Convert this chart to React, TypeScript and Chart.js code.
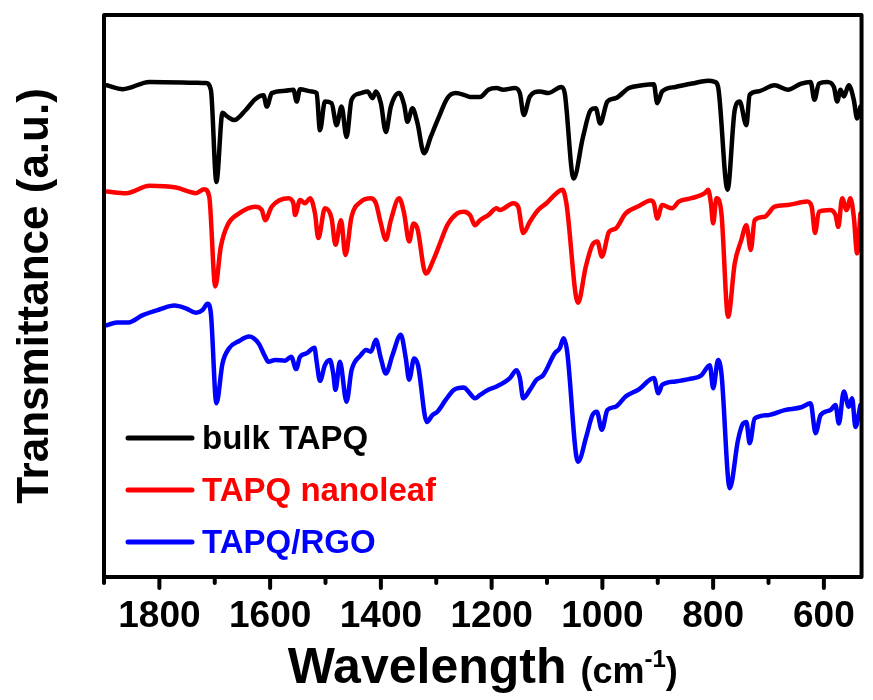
import React, { useEffect, useRef } from 'react';
import { Chart, registerables } from 'chart.js';

Chart.register(...registerables);

// Wavenumber (cm-1) and transmittance (a.u.) for each spectrum
const bulkWn = [1895, 1866, 1818, 1716, 1707, 1697, 1686, 1677, 1665, 1644, 1627, 1612, 1606, 1597, 1573, 1558, 1552, 1546, 1525, 1516, 1510, 1501, 1489, 1480, 1471, 1462, 1453, 1436, 1424, 1415, 1409, 1400, 1391, 1382, 1367, 1358, 1352, 1343, 1334, 1322, 1310, 1295, 1280, 1265, 1250, 1239, 1221, 1206, 1191, 1179, 1158, 1149, 1142, 1131, 1113, 1098, 1074, 1068, 1052, 1035, 1021, 1012, 1004, 991, 976, 952, 928, 907, 901, 892, 868, 838, 809, 797, 791, 774, 761, 752, 740, 734, 719, 689, 665, 641, 624, 617, 609, 594, 582, 576, 570, 564, 555, 546, 540, 534];
const bulkT = [87.5, 86.8, 88.1, 87.9, 86.7, 70.3, 82.6, 81.9, 81.3, 83.1, 85.0, 85.7, 83.7, 86.1, 86.5, 86.7, 84.6, 86.8, 86.4, 86.1, 79.5, 84.6, 84.3, 80.4, 83.7, 78.3, 84.9, 86.1, 86.4, 85.2, 86.4, 84.3, 79.2, 83.7, 86.1, 84.0, 81.0, 83.4, 80.8, 75.4, 78.3, 81.9, 85.2, 86.1, 85.8, 85.4, 85.4, 86.7, 87.0, 86.7, 87.0, 86.1, 82.2, 85.5, 86.4, 86.1, 87.2, 86.1, 70.9, 78.3, 83.1, 83.4, 80.7, 84.6, 85.2, 87.0, 87.5, 87.7, 84.3, 86.4, 87.2, 87.8, 88.3, 88.1, 87.2, 68.9, 83.1, 84.6, 80.4, 85.8, 86.4, 87.5, 86.7, 87.8, 88.1, 84.9, 87.8, 88.1, 87.2, 84.6, 86.7, 85.5, 87.5, 84.9, 81.6, 83.7];

const leafWn = [1895, 1860, 1818, 1770, 1734, 1719, 1710, 1699, 1689, 1677, 1656, 1627, 1615, 1609, 1597, 1567, 1558, 1555, 1546, 1537, 1528, 1519, 1513, 1501, 1489, 1482, 1472, 1464, 1453, 1436, 1418, 1409, 1400, 1391, 1382, 1367, 1358, 1349, 1341, 1334, 1319, 1304, 1292, 1280, 1262, 1250, 1239, 1230, 1221, 1206, 1191, 1185, 1161, 1152, 1143, 1131, 1116, 1101, 1083, 1072, 1065, 1044, 1030, 1018, 1009, 1001, 988, 976, 958, 934, 913, 907, 901, 892, 874, 862, 839, 815, 809, 804, 800, 794, 785, 773, 761, 749, 740, 732, 725, 707, 689, 665, 630, 622, 616, 609, 588, 579, 574, 567, 559, 552, 546, 540, 534];
const leafT = [68.6, 68.3, 69.6, 69.3, 68.3, 69.0, 67.7, 51.7, 58.8, 62.6, 64.7, 65.9, 65.3, 63.5, 65.9, 67.4, 66.5, 64.4, 67.1, 66.5, 67.4, 64.7, 60.3, 65.6, 63.8, 59.1, 63.5, 57.3, 64.1, 66.8, 67.4, 66.5, 62.9, 60.0, 63.5, 67.4, 64.7, 59.7, 62.9, 62.0, 54.0, 56.7, 59.7, 62.6, 64.7, 65.0, 64.4, 62.6, 63.5, 64.4, 65.6, 65.3, 66.5, 65.9, 61.2, 63.2, 65.3, 66.5, 68.3, 68.9, 66.5, 48.8, 55.2, 59.1, 59.7, 57.0, 61.4, 62.0, 64.7, 66.0, 67.0, 66.5, 63.8, 66.2, 65.6, 66.8, 67.4, 68.3, 68.9, 66.5, 62.9, 67.4, 64.7, 46.3, 55.8, 60.0, 62.6, 58.2, 63.5, 64.1, 65.9, 66.2, 66.8, 65.9, 61.2, 65.0, 65.3, 64.4, 62.3, 67.4, 65.3, 67.4, 64.1, 57.6, 64.7];

const rgoWn = [1895, 1877, 1856, 1830, 1800, 1773, 1752, 1734, 1722, 1713, 1707, 1697, 1686, 1674, 1656, 1638, 1621, 1609, 1603, 1591, 1573, 1562, 1553, 1546, 1534, 1520, 1516, 1510, 1501, 1492, 1486, 1482, 1474, 1462, 1453, 1436, 1427, 1418, 1409, 1400, 1391, 1379, 1364, 1355, 1349, 1340, 1333, 1317, 1307, 1298, 1283, 1268, 1250, 1242, 1230, 1221, 1206, 1191, 1167, 1155, 1149, 1143, 1131, 1119, 1107, 1086, 1077, 1070, 1064, 1044, 1029, 1018, 1010, 1001, 991, 976, 958, 934, 907, 899, 892, 868, 844, 821, 806, 800, 791, 785, 770, 755, 746, 740, 734, 725, 701, 671, 641, 624, 615, 606, 588, 579, 573, 564, 555, 549, 543, 534];
const rgoT = [44.8, 45.3, 45.3, 46.6, 47.6, 48.3, 47.8, 47.0, 47.5, 48.6, 46.9, 30.9, 38.0, 40.7, 42.0, 42.8, 41.6, 39.2, 38.3, 38.6, 38.5, 39.2, 37.0, 39.2, 39.8, 40.8, 38.3, 34.9, 37.7, 38.6, 36.2, 33.3, 38.3, 31.2, 36.8, 39.5, 40.4, 40.1, 42.2, 38.9, 36.2, 39.5, 43.1, 38.9, 35.1, 38.9, 37.7, 27.6, 28.8, 29.4, 31.5, 33.3, 33.7, 33.0, 31.8, 32.4, 33.3, 33.9, 35.4, 36.8, 35.4, 31.8, 33.3, 35.1, 35.9, 39.8, 40.7, 42.5, 40.4, 20.5, 25.0, 28.8, 29.4, 26.2, 29.7, 30.3, 32.1, 33.4, 35.4, 32.7, 34.2, 34.8, 35.2, 35.9, 37.7, 33.6, 38.6, 36.2, 15.8, 24.4, 27.3, 27.6, 23.8, 28.2, 28.8, 29.7, 30.2, 30.9, 25.6, 28.8, 29.7, 30.6, 27.3, 33.0, 30.3, 31.8, 26.7, 30.6];

const seriesNames = ['bulk TAPQ', 'TAPQ nanoleaf', 'TAPQ/RGO'];
const seriesColors = ['#000000', '#ff0000', '#0000ff'];
const majorTicks = [1800, 1600, 1400, 1200, 1000, 800, 600];
const minorTicks = [1900, 1700, 1500, 1300, 1100, 900, 700];
const xTitle = 'Wavelength';
const xUnit = ['(cm', '-1', ')'];
const yTitle = 'Transmittance (a.u.)';

const FONT = '"Liberation Sans", Arial, Helvetica, sans-serif';

const toPoints = (wn: number[], t: number[]) => wn.map((w, i) => ({ x: w, y: t[i] }));

export default function App() {
  const ref = useRef<HTMLCanvasElement>(null);

  useEffect(() => {
    const canvas = ref.current;
    if (!canvas) return;

    const decor = {
      id: 'decor',
      afterDraw(chart: any) {
        const { ctx, chartArea: a, scales } = chart;
        const x = scales.x;
        ctx.save();
        // frame
        ctx.strokeStyle = '#000';
        ctx.lineWidth = 4;
        ctx.lineJoin = 'round';
        ctx.strokeRect(a.left, a.top, a.right - a.left, a.bottom - a.top);
        // ticks
        ctx.lineCap = 'round';
        majorTicks.forEach((v) => {
          const px = x.getPixelForValue(v);
          ctx.beginPath();
          ctx.moveTo(px, a.bottom);
          ctx.lineTo(px, a.bottom + 11);
          ctx.stroke();
        });
        minorTicks.forEach((v) => {
          const px = x.getPixelForValue(v);
          ctx.beginPath();
          ctx.moveTo(px, a.bottom);
          ctx.lineTo(px, a.bottom + 6);
          ctx.stroke();
        });

        // legend
        const legY = [438, 490, 542];
        seriesNames.forEach((name, i) => {
          ctx.strokeStyle = seriesColors[i];
          ctx.lineWidth = 5;
          ctx.beginPath();
          ctx.moveTo(a.left + 24, legY[i]);
          ctx.lineTo(a.left + 88, legY[i]);
          ctx.stroke();
          ctx.fillStyle = seriesColors[i];
          ctx.font = `bold 33px ${FONT}`;
          ctx.textAlign = 'left';
          ctx.textBaseline = 'alphabetic';
          ctx.fillText(name, a.left + 98, legY[i] + 11);
        });

        // x title
        ctx.fillStyle = '#000';
        ctx.textBaseline = 'alphabetic';
        ctx.textAlign = 'left';
        const big = `bold 50px ${FONT}`;
        const mid = `bold 36px ${FONT}`;
        const sup = `bold 24px ${FONT}`;
        ctx.font = big;
        const w0 = ctx.measureText(xTitle + ' ').width;
        ctx.font = mid;
        const w1 = ctx.measureText(xUnit[0]).width;
        ctx.font = sup;
        const w2 = ctx.measureText(xUnit[1]).width;
        ctx.font = mid;
        const w3 = ctx.measureText(xUnit[2]).width;
        const total = w0 + w1 + w2 + w3;
        const cx = (a.left + a.right) / 2;
        let sx = cx - total / 2;
        const by = 683;
        ctx.font = big;
        ctx.fillText(xTitle + ' ', sx, by);
        sx += w0;
        ctx.font = mid;
        ctx.fillText(xUnit[0], sx, by);
        sx += w1;
        ctx.font = sup;
        ctx.fillText(xUnit[1], sx, by - 16);
        sx += w2;
        ctx.font = mid;
        ctx.fillText(xUnit[2], sx, by);

        // y title
        ctx.save();
        ctx.translate(48, (a.top + a.bottom) / 2);
        ctx.rotate(-Math.PI / 2);
        ctx.font = `bold 44px ${FONT}`;
        ctx.textAlign = 'center';
        ctx.textBaseline = 'alphabetic';
        ctx.fillText(yTitle, 0, 0);
        ctx.restore();

        ctx.restore();
      },
    };

    const chart = new Chart(canvas, {
      type: 'line',
      data: {
        datasets: [
          { label: seriesNames[0], data: toPoints(bulkWn, bulkT), borderColor: seriesColors[0] },
          { label: seriesNames[1], data: toPoints(leafWn, leafT), borderColor: seriesColors[1] },
          { label: seriesNames[2], data: toPoints(rgoWn, rgoT), borderColor: seriesColors[2] },
        ].map((d) => ({
          ...d,
          borderWidth: 4.5,
          pointRadius: 0,
          cubicInterpolationMode: 'monotone' as const,
          fill: false,
          borderJoinStyle: 'round' as const,
          borderCapStyle: 'round' as const,
        })),
      },
      options: {
        animation: false,
        responsive: false,
        layout: { padding: { left: 104, right: 5, top: 15, bottom: 0 } },
        plugins: { legend: { display: false }, tooltip: { enabled: false } },
        scales: {
          x: {
            type: 'linear',
            reverse: true,
            min: 532,
            max: 1900,
            grid: { display: false, drawTicks: false },
            border: { display: false },
            afterBuildTicks: (scale: any) => {
              scale.ticks = majorTicks.map((v) => ({ value: v }));
            },
            afterFit: (scale: any) => {
              scale.height = 123;
            },
            ticks: {
              autoSkip: false,
              maxRotation: 0,
              padding: 18,
              color: '#000',
              font: { family: FONT, size: 37, weight: 'bold' },
              callback: (v: any) => String(v),
            },
          },
          y: {
            display: false,
            min: 0,
            max: 100,
          },
        },
      },
      plugins: [decor],
    });

    return () => chart.destroy();
  }, []);

  return (
    <div style={{ position: 'absolute', left: 0, top: 0, width: 873, height: 700, background: '#fff' }}>
      <canvas ref={ref} width={873} height={700} />
    </div>
  );
}
